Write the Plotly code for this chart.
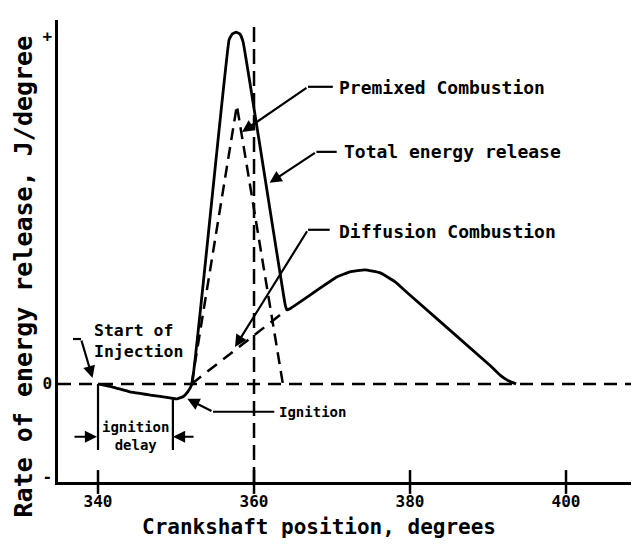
import plotly.graph_objects as go

# ---- data ----
total_x = [340.0, 341.9, 344.1, 346.7, 349.2, 350.1, 350.9, 351.5, 352.05,
           356.8, 357.2, 357.7, 358.2, 358.6, 364.0, 364.2, 364.6,
           370.6, 372.3, 374.2, 376.2, 378.1, 379.4, 390.3, 391.5, 392.6, 393.6]
total_y = [0.0, -0.009, -0.023, -0.032, -0.040, -0.043, -0.037, -0.023, 0.0,
           0.989, 1.006, 1.011, 1.006, 0.983, 0.227, 0.213, 0.216,
           0.307, 0.322, 0.328, 0.319, 0.293, 0.267, 0.052, 0.026, 0.009, 0.0]

premixed_x = [352.0, 357.8, 363.7]
premixed_y = [0.0, 0.80, 0.0]

diffusion_x = [352.0, 364.2]
diffusion_y = [0.0, 0.213]

x_ticks = [340, 360, 380, 400]
x_tick_labels = ["340", "360", "380", "400"]
y_ticks = [1.0, 0.0, -0.267]
y_tick_labels = ["+", "0", "-"]

tdc = 360
injection_start = 340.0
ignition_point = 349.6

X_RANGE = [334.87, 408.33]
Y_RANGE = [-0.282, 1.046]

FONT = "DejaVu Sans Mono"
BLACK = "black"

fig = go.Figure()

fig.add_trace(go.Scatter(x=premixed_x, y=premixed_y, mode="lines",
                         line=dict(color=BLACK, width=2.5, dash="12px,7px"),
                         hoverinfo="skip", showlegend=False))
fig.add_trace(go.Scatter(x=diffusion_x, y=diffusion_y, mode="lines",
                         line=dict(color=BLACK, width=2.5, dash="12px,8px"),
                         hoverinfo="skip", showlegend=False))
fig.add_trace(go.Scatter(x=total_x, y=total_y, mode="lines",
                         line=dict(color=BLACK, width=2.8, shape="spline", smoothing=0.3),
                         hoverinfo="skip", showlegend=False))
# tick marks crossing the x axis
fig.add_trace(go.Scatter(x=x_ticks, y=[Y_RANGE[0]] * len(x_ticks), mode="markers",
                         marker=dict(symbol="line-ns-open", size=17, color=BLACK,
                                     line=dict(color=BLACK, width=2.5)),
                         cliponaxis=False, hoverinfo="skip", showlegend=False))

shapes = [
    # zero line
    dict(type="line", xref="paper", x0=0, x1=1, yref="y", y0=0, y1=0,
         line=dict(color=BLACK, width=2.5, dash="13px,8px"), layer="below"),
    # TDC vertical line
    dict(type="line", xref="x", x0=tdc, x1=tdc, yref="paper", y0=0, y1=1,
         line=dict(color=BLACK, width=2.5, dash="15px,7px"), layer="below"),
    # ignition delay verticals
    dict(type="line", x0=injection_start, x1=injection_start, y0=0, y1=-0.19,
         line=dict(color=BLACK, width=2.2)),
    dict(type="line", x0=ignition_point, x1=ignition_point, y0=-0.040, y1=-0.19,
         line=dict(color=BLACK, width=2.2)),
    # leader horizontal segments
    dict(type="line", x0=366.92, x1=370.1, y0=0.854, y1=0.854, line=dict(color=BLACK, width=2.2)),
    dict(type="line", x0=368.0, x1=370.6, y0=0.667, y1=0.667, line=dict(color=BLACK, width=2.2)),
    dict(type="line", x0=366.92, x1=369.7, y0=0.443, y1=0.443, line=dict(color=BLACK, width=2.2)),
    dict(type="line", x0=336.79, x1=337.82, y0=0.129, y1=0.129, line=dict(color=BLACK, width=2.2)),
    dict(type="line", x0=354.74, x1=362.6, y0=-0.080, y1=-0.080, line=dict(color=BLACK, width=2.2)),
]

def arrow(x, y, ax, ay):
    return dict(x=x, y=y, ax=ax, ay=ay, xref="x", yref="y", axref="x", ayref="y",
                text="", showarrow=True, arrowhead=2, arrowsize=1.1,
                arrowwidth=2.2, arrowcolor=BLACK)

def label(x, y, text, size, align="left", xanchor="left"):
    return dict(x=x, y=y, xref="x", yref="y", text=text, showarrow=False,
                xanchor=xanchor, yanchor="middle", align=align,
                font=dict(family=FONT, size=size, color=BLACK, weight="bold"))

annotations = [
    arrow(358.46, 0.724, 366.92, 0.854),
    arrow(362.0, 0.578, 368.0, 0.667),
    arrow(357.56, 0.106, 366.92, 0.443),
    arrow(339.3, 0.017, 337.82, 0.129),
    arrow(351.45, -0.043, 354.74, -0.080),
    arrow(339.87, -0.152, 336.79, -0.152),
    arrow(349.62, -0.152, 352.44, -0.152),
    label(370.6, 0.851, "Premixed Combustion", 18),
    label(371.3, 0.667, "Total energy release", 18),
    label(370.6, 0.437, "Diffusion Combustion", 18),
    label(339.2, 0.122, "Start of<br>Injection", 16.5),
    label(362.95, -0.080, "Ignition", 14),
    label(344.75, -0.15, "ignition<br>delay", 14, align="center", xanchor="center"),
    dict(x=0.456, y=-0.097, xref="paper", yref="paper", text="Crankshaft position, degrees",
         showarrow=False, xanchor="center", yanchor="middle",
         font=dict(family=FONT, size=21, color=BLACK, weight="bold")),
    dict(x=-0.061, y=0.445, xref="paper", yref="paper", text="Rate of energy release, J/degree",
         showarrow=False, xanchor="center", yanchor="middle", textangle=-90,
         font=dict(family=FONT, size=25, color=BLACK, weight="bold")),
]

fig.update_layout(
    width=623, height=538,
    margin=dict(l=50, r=0, t=12, b=64),
    paper_bgcolor="white", plot_bgcolor="white",
    shapes=shapes, annotations=annotations,
    xaxis=dict(range=X_RANGE, tickvals=x_ticks, ticktext=x_tick_labels,
               showline=True, linecolor=BLACK, linewidth=2.5, showgrid=False,
               zeroline=False, ticks="", ticklabelstandoff=3,
               tickfont=dict(family=FONT, size=16, color=BLACK, weight="bold")),
    yaxis=dict(range=Y_RANGE, tickvals=y_ticks, ticktext=y_tick_labels,
               showline=True, linecolor=BLACK, linewidth=2.5, showgrid=False,
               zeroline=False, ticks="", ticklabelstandoff=0,
               tickfont=dict(family=FONT, size=16, color=BLACK, weight="bold")),
)

fig.write_html("out.html")
